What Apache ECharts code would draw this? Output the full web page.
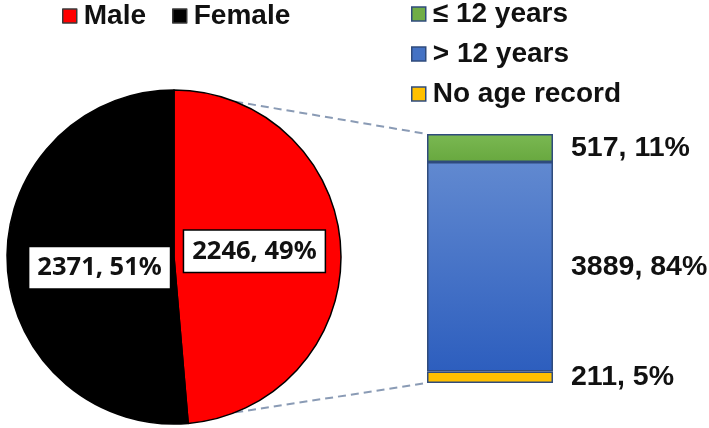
<!DOCTYPE html>
<html>
<head>
<meta charset="utf-8">
<script src="https://cdn.jsdelivr.net/npm/echarts@6/dist/echarts.min.js"></script>
<style>
html,body{margin:0;padding:0;background:#fff;}
#chart{width:709px;height:428px;}
</style>
</head>
<body>
<div id="chart"></div>
<script>
// ---- data ----
const genderNames = ['Male', 'Female'];
const genderValues = [2246, 2371];
const genderPct = ['49%', '51%'];
const genderColors = ['#ff0000', '#000000'];

const ageGroups = ['≤ 12 years', '> 12 years', 'No age record'];
const ageValues = [517, 3889, 211];
const agePct = ['11%', '84%', '5%'];

// ---- layout ----
const pieCenter = [174, 257];
const pieRadius = 167;
const connectorAngle = 21.5; // degrees from vertical
const pieLabelShift = [[-3, -1], [6, 3.5]];
const ageTotal = ageValues.reduce((a, b) => a + b, 0);

const chart = echarts.init(document.getElementById('chart'), null, {renderer: 'canvas'});

const blueGrad = new echarts.graphic.LinearGradient(0, 0, 0, 1, [
  {offset: 0, color: '#6189d0'}, {offset: 1, color: '#2d5ebe'}]);
const greenGrad = new echarts.graphic.LinearGradient(0, 0, 0, 1, [
  {offset: 0, color: '#7ab852'}, {offset: 1, color: '#68a83f'}]);
const ageColors = [greenGrad, blueGrad, '#ffc000'];
const ageLegendColors = ['#70ad47', '#4472c4', '#ffc000'];

const barFont = {fontFamily: 'Liberation Sans, Arial, sans-serif', fontWeight: 'bold', fontSize: 28, color: '#111'};

// bar series stacked bottom-first
const barOrder = [2, 1, 0];
const barSeries = barOrder.map(i => ({
  name: ageGroups[i],
  type: 'bar',
  stack: 'age',
  xAxisIndex: 0,
  yAxisIndex: 0,
  barWidth: '100%',
  barCategoryGap: '0%',
  data: [ageValues[i]],
  itemStyle: {color: ageColors[i], borderColor: '#2f4b7c', borderWidth: 1.5},
  label: {
    show: true,
    position: 'right',
    distance: 18,
    formatter: () => ageValues[i] + ', ' + agePct[i],
    ...barFont,
    fontSize: 28.5
  },
  emphasis: {disabled: true},
  silent: true
}));

chart.setOption({
  animation: false,
  legend: [
    {
      data: genderNames,
      left: 57,
      top: -3,
      orient: 'horizontal',
      icon: 'rect',
      itemWidth: 14,
      itemHeight: 14,
      itemGap: 26,
      itemStyle: {borderColor: '#3a3a3a', borderWidth: 1.5},
      textStyle: {...barFont, lineHeight: 28, padding: [0, 0, 0, 2]},
      selectedMode: false
    },
    {
      data: ageGroups.map((n, i) => ({name: n, itemStyle: {color: ageLegendColors[i]}})),
      left: 406,
      top: -5,
      orient: 'vertical',
      icon: 'rect',
      itemWidth: 14,
      itemHeight: 14,
      itemGap: 12,
      itemStyle: {borderColor: '#2f4b7c', borderWidth: 1.5},
      textStyle: {...barFont, lineHeight: 28, padding: [0, 0, 0, 2]},
      selectedMode: false
    }
  ],
  grid: {left: 427, width: 126, top: 134, height: 249},
  xAxis: {type: 'category', data: ['age'], show: false, boundaryGap: true},
  yAxis: {type: 'value', min: 0, max: ageTotal, show: false},
  series: [
    {
      type: 'pie',
      center: pieCenter,
      radius: pieRadius,
      startAngle: 90,
      clockwise: true,
      silent: true,
      data: genderNames.map((n, i) => ({
        name: n, value: genderValues[i], itemStyle: {color: genderColors[i]}
      })),
      itemStyle: {borderColor: '#000', borderWidth: 1.5},
      label: {
        show: true,
        position: 'inside',
        formatter: p => genderValues[p.dataIndex] + ', ' + genderPct[p.dataIndex],
        fontFamily: 'Noto Sans, sans-serif',
        fontWeight: 'bold',
        fontSize: 25.5,
        lineHeight: 30,
        color: '#111',
        backgroundColor: '#fff',
        borderColor: '#000',
        borderWidth: 1.5,
        padding: [6, 8, 5, 8]
      },
      labelLayout: p => ({dx: pieLabelShift[p.dataIndex][0], dy: pieLabelShift[p.dataIndex][1]}),
      labelLine: {show: false},
      emphasis: {disabled: true}
    },
    ...barSeries
  ]
});

// connector lines from pie edge to bar corners
const a = connectorAngle * Math.PI / 180;
const px = pieCenter[0] + pieRadius * Math.sin(a);
const pTopY = pieCenter[1] - pieRadius * Math.cos(a);
const pBotY = pieCenter[1] + pieRadius * Math.cos(a);
const barLeftX = chart.convertToPixel({xAxisIndex: 0}, 0) - 126 / 2;
const barTopY = chart.convertToPixel({yAxisIndex: 0}, ageTotal);
const barBotY = chart.convertToPixel({yAxisIndex: 0}, 0);
const lineStyle = {stroke: '#8a9bb5', lineWidth: 2, lineDash: [8, 5]};
chart.setOption({
  graphic: [
    {type: 'line', shape: {x1: px, y1: pTopY, x2: barLeftX, y2: barTopY}, style: lineStyle, silent: true},
    {type: 'line', shape: {x1: px, y1: pBotY, x2: barLeftX, y2: barBotY}, style: lineStyle, silent: true}
  ]
});
</script>
</body>
</html>
